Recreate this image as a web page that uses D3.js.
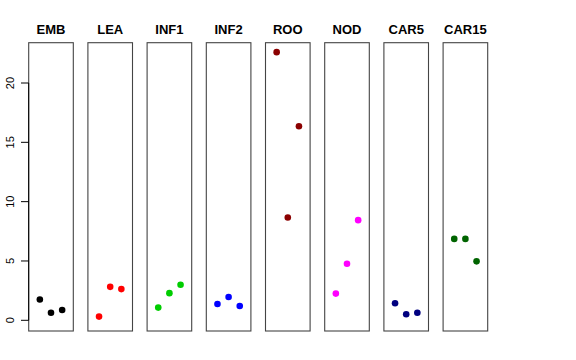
<!DOCTYPE html>
<html>
<head>
<meta charset="utf-8">
<script src="https://cdn.jsdelivr.net/npm/d3@7"></script>
<style>
  body { margin: 0; background: #fff; }
  svg { display: block; font-family: "Liberation Sans", Arial, sans-serif; }
</style>
</head>
<body>
<svg id="chart" width="576" height="360"></svg>
<script>
// tissues, one panel each
const tissues = ['EMB', 'LEA', 'INF1', 'INF2', 'ROO', 'NOD', 'CAR5', 'CAR15'];
const colors = ['#000000', '#ff0000', '#00cd00', '#0000ff', '#8b0000', '#ff00ff', '#000080', '#006400'];
// three replicates per tissue
const rep1 = [1.75, 0.31, 1.07, 1.38, 22.6, 2.25, 1.44, 6.86];
const rep2 = [0.64, 2.82, 2.29, 1.97, 8.67, 4.77, 0.51, 6.86];
const rep3 = [0.87, 2.63, 2.99, 1.21, 16.35, 8.44, 0.64, 4.97];
const yTicks = [0, 5, 10, 15, 20];

const svg = d3.select('#chart');

const panelTop = 42.7, panelBottom = 331, panelW = 44.6;
const y = d3.scaleLinear().domain([0, 20]).range([320.3, 83]);
const panelX = d3.scaleLinear().domain([0, 1]).range([28.7, 28.7 + 59.2]);
const inner = d3.scaleLinear().domain([0, 4]).range([0, panelW]);

tissues.forEach(function (name, i) {
  const g = svg.append('g').attr('transform', 'translate(' + panelX(i) + ',0)');
  g.append('rect')
    .attr('x', 0).attr('y', panelTop)
    .attr('width', panelW).attr('height', panelBottom - panelTop)
    .attr('fill', 'none').attr('stroke', '#444').attr('stroke-width', 1.1);
  g.append('text')
    .attr('x', panelW / 2).attr('y', 34)
    .attr('text-anchor', 'middle')
    .style('font-size', '13px').style('font-weight', 'bold')
    .text(name);
  const vals = [rep1[i], rep2[i], rep3[i]];
  g.selectAll('circle').data(vals).enter().append('circle')
    .attr('cx', function (d, k) { return inner(k + 1); })
    .attr('cy', function (d) { return y(d); })
    .attr('r', 3.3)
    .attr('fill', colors[i]);
});

// y axis on the first panel
const axis = svg.append('g');
axis.append('line')
  .attr('x1', 28.7).attr('x2', 28.7)
  .attr('y1', y(0)).attr('y2', y(20))
  .attr('stroke', '#000');
axis.selectAll('line.tick').data(yTicks).enter().append('line')
  .attr('class', 'tick')
  .attr('x1', 21).attr('x2', 28.7)
  .attr('y1', function (d) { return y(d); })
  .attr('y2', function (d) { return y(d); })
  .attr('stroke', '#000');
axis.selectAll('text').data(yTicks).enter().append('text')
  .attr('transform', function (d) { return 'translate(14,' + y(d) + ') rotate(-90)'; })
  .attr('text-anchor', 'middle')
  .style('font-size', '11px')
  .text(function (d) { return d; });
</script>
</body>
</html>
